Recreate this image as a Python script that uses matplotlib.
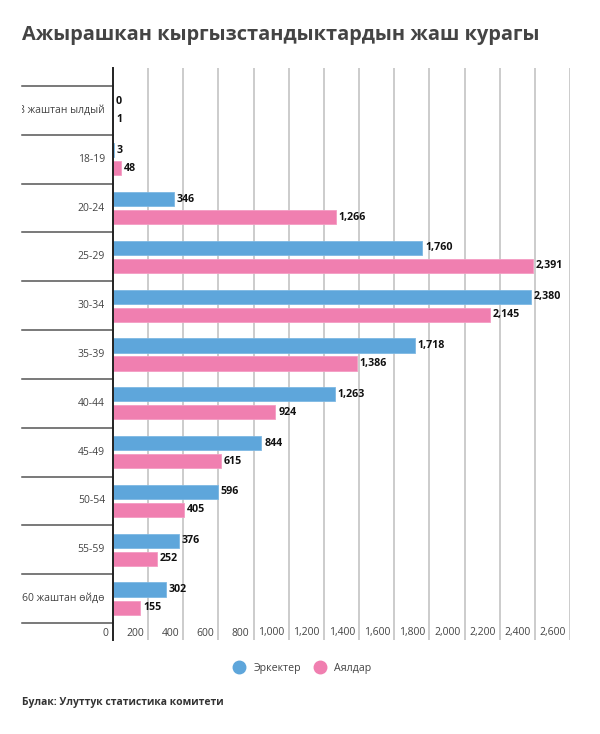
import matplotlib.pyplot as plt
import numpy as np
from matplotlib.lines import Line2D
from matplotlib.transforms import Bbox, TransformedBbox, blended_transform_factory

plt.rcParams['font.family'] = ['Open Sans', 'DejaVu Sans']

# данные
categories = ['18 жаштан ылдый', '18-19', '20-24', '25-29', '30-34', '35-39',
              '40-44', '45-49', '50-54', '55-59', '60 жаштан өйдө']
men = [0, 3, 346, 1760, 2380, 1718, 1263, 844, 596, 376, 302]
women = [1, 48, 1266, 2391, 2145, 1386, 924, 615, 405, 252, 155]
x_ticks = list(range(0, 2601, 200))
series_names = ['Эркектер', 'Аялдар']

BLUE = '#5ea6db'
PINK = '#f07fb0'
GREY_TXT = '#444444'

W, H = 600, 734
fig = plt.figure(figsize=(W / 100, H / 100), dpi=100)
# оси: x от 113 до 570 px, y от 68 до 640 px
ax = fig.add_axes([113 / W, 1 - 640 / H, (570 - 113) / W, (640 - 68) / H])

y = np.arange(len(categories))
bar_h = 0.29
off = 0.185
ax.barh(y - off, men, height=bar_h, color=BLUE, edgecolor='#7db8e3', linewidth=0.6, zorder=3)
ax.barh(y + off, women, height=bar_h, color=PINK, edgecolor='#f49cc3', linewidth=0.6, zorder=3)

ax.set_xlim(0, 2600)
ax.set_ylim(10.848, -0.869)

# сетка
for v in x_ticks[1:]:
    ax.axvline(v, color='#c8c8c8', linewidth=1.3, zorder=1)

for s in ['top', 'right', 'bottom']:
    ax.spines[s].set_visible(False)
ax.spines['left'].set_color('#222222')
ax.spines['left'].set_linewidth(1.4)
ax.spines['left'].set_zorder(4)
ax.set_xticks([])
ax.set_yticks([])

# подписи значений
for i in range(len(categories)):
    ax.annotate(f'{men[i]:,}', (men[i], y[i] - off), xytext=(2, 0), textcoords='offset points',
                va='center', ha='left', fontsize=7.7, fontweight='bold', color='#111111')
    ax.annotate(f'{women[i]:,}', (women[i], y[i] + off), xytext=(2, 0), textcoords='offset points',
                va='center', ha='left', fontsize=7.7, fontweight='bold', color='#111111')

# подписи оси x
tr_x = blended_transform_factory(ax.transData, ax.transAxes)
for v in x_ticks:
    ax.annotate(f'{v:,}', (v, 7 / 572), xycoords=tr_x, xytext=(-3, 0), textcoords='offset points',
                ha='right', va='center', fontsize=7.5, color=GREY_TXT)

# категории и разделители
tr_y = blended_transform_factory(ax.transAxes, ax.transData)
left_frac = (22 - 113) / (570 - 113)
clip = TransformedBbox(Bbox([[22 / W, 0], [1, 1]]), fig.transFigure)
for i, c in enumerate(categories):
    t = ax.text(-8 / (570 - 113), i, c, transform=tr_y, ha='right', va='center',
                fontsize=7.5, color=GREY_TXT)
    t.set_clip_on(True)
    t.set_clip_box(clip)
for b in np.arange(-0.5, len(categories), 1.0):
    ax.plot([left_frac, 0], [b, b], transform=tr_y, color='#555555', linewidth=1.1, clip_on=False)

# заголовок и источник
fig.text(22 / W, 1 - 35 / H, 'Ажырашкан кыргызстандыктардын жаш курагы', fontsize=14.4,
         fontweight='bold', color='#444444', va='center', ha='left')
fig.text(22 / W, 1 - 703 / H, 'Булак: Улуттук статистика комитети', fontsize=7.5,
         fontweight='bold', color='#333333', va='center', ha='left')

handles = [Line2D([], [], marker='o', linestyle='', markersize=9, color=BLUE),
           Line2D([], [], marker='o', linestyle='', markersize=9, color=PINK)]
fig.legend(handles, series_names, loc='center', bbox_to_anchor=(300 / W, 1 - 668 / H), ncol=2,
           frameon=False, fontsize=7.7, labelcolor=GREY_TXT, handletextpad=0.3, columnspacing=0.8)

fig.savefig('out.png', dpi=100)
